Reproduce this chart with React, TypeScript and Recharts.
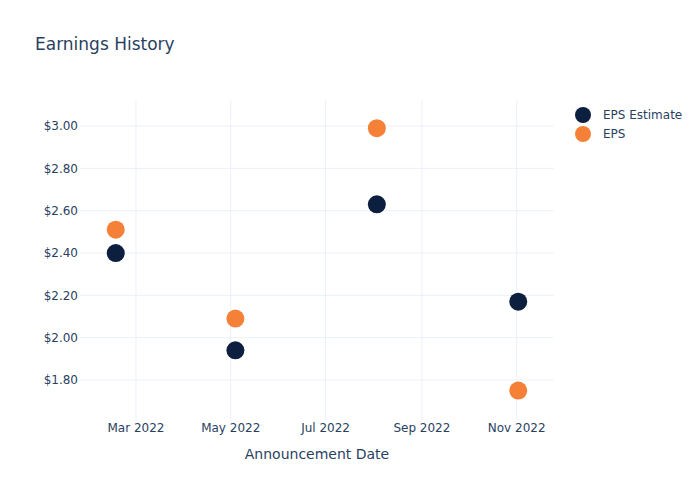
import React from 'react';
import { ScatterChart, Scatter, XAxis, YAxis, CartesianGrid, Label } from 'recharts';

const announcementDates = ['2022-02-16', '2022-05-04', '2022-08-03', '2022-11-02'];
const epsEstimate = [2.4, 1.94, 2.63, 2.17];
const epsActual = [2.51, 2.09, 2.99, 1.75];
const xTickDates = ['2022-03-01', '2022-05-01', '2022-07-01', '2022-09-01', '2022-11-01'];
const yTicks = [1.8, 2.0, 2.2, 2.4, 2.6, 2.8, 3.0];
const monthNames = ['Jan', 'Feb', 'Mar', 'Apr', 'May', 'Jun', 'Jul', 'Aug', 'Sep', 'Oct', 'Nov', 'Dec'];

const ts = (d: string) => Date.parse(d + 'T00:00:00Z');

const estimateData = announcementDates.map((d, i) => ({ date: ts(d), value: epsEstimate[i] }));
const epsData = announcementDates.map((d, i) => ({ date: ts(d), value: epsActual[i] }));
const xTicks = xTickDates.map(ts);

const NAVY = '#0c1f3f';
const ORANGE = '#f58138';
const TEXT = '#2a3f5f';
const FONT = '"DejaVu Sans", Verdana, sans-serif';

const dot = (color: string) => (props: any) => (
  <circle cx={props.cx} cy={props.cy} r={9} fill={color} />
);

const fmtDate = (v: number) => {
  const d = new Date(v);
  return `${monthNames[d.getUTCMonth()]} ${d.getUTCFullYear()}`;
};

const legendItems = [
  { name: 'EPS Estimate', color: NAVY },
  { name: 'EPS', color: ORANGE },
];

export default function App() {
  return (
    <div style={{ position: 'absolute', left: 0, top: 0, width: 700, height: 500, background: '#fff' }}>
      <div style={{ position: 'absolute', left: 35, top: 34, fontFamily: FONT, fontSize: 17, color: TEXT }}>
        Earnings History
      </div>
      <div style={{ position: 'absolute', left: 574, top: 105, fontFamily: FONT, fontSize: 12, color: TEXT }}>
        {legendItems.map((s) => (
          <div key={s.name} style={{ display: 'flex', alignItems: 'center', height: 19 }}>
            <svg width={18} height={18} style={{ marginRight: 11 }}>
              <circle cx={9} cy={9} r={8} fill={s.color} />
            </svg>
            <span>{s.name}</span>
          </div>
        ))}
      </div>
      <ScatterChart width={700} height={500} margin={{ top: 100, right: 146, left: 0, bottom: 0 }}>
        <CartesianGrid stroke="#ebf0f8" strokeWidth={1} horizontalValues={yTicks} verticalValues={xTicks} />
        <XAxis
          type="number"
          dataKey="date"
          domain={[ts('2022-01-24'), ts('2022-11-25')]}
          ticks={xTicks}
          tickFormatter={fmtDate}
          axisLine={false}
          tickLine={false}
          tickSize={0}
          tickMargin={3}
          height={80}
          allowDataOverflow
          tick={{ fill: TEXT, fontSize: 12, fontFamily: FONT }}
        >
          <Label value="Announcement Date" position="insideTop" offset={29} style={{ fill: TEXT, fontSize: 14, fontFamily: FONT }} />
        </XAxis>
        <YAxis
          type="number"
          dataKey="value"
          domain={[1.611, 3.123]}
          ticks={yTicks}
          tickFormatter={(v: number) => `$${v.toFixed(2)}`}
          axisLine={false}
          tickLine={false}
          tickSize={0}
          tickMargin={2}
          width={80}
          allowDataOverflow
          tick={{ fill: TEXT, fontSize: 12, fontFamily: FONT }}
        />
        <Scatter name="EPS Estimate" data={estimateData} fill={NAVY} shape={dot(NAVY)} isAnimationActive={false} />
        <Scatter name="EPS" data={epsData} fill={ORANGE} shape={dot(ORANGE)} isAnimationActive={false} />
      </ScatterChart>
    </div>
  );
}
